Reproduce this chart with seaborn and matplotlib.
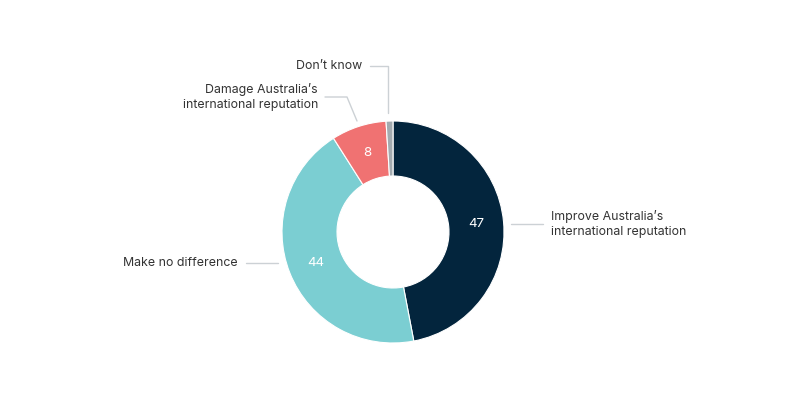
import matplotlib
matplotlib.use("Agg")
import matplotlib.pyplot as plt
import seaborn as sns
import numpy as np

categories = ["Improve Australia’s\ninternational reputation", "Make no difference",
              "Damage Australia’s\ninternational reputation", "Don’t know"]
values = [47, 44, 8, 1]
value_labels = ["47", "44", "8", ""]
colors = ["#03253D", "#7BCED2", "#F07272", "#A3ABB0"]

sns.set_theme(style="white")
plt.rcParams['font.family'] = ['Inter', 'DejaVu Sans']

W, H = 785, 396
fig = plt.figure(figsize=(W / 100, H / 100), dpi=100)
ax = fig.add_axes([0, 0, 1, 1])

cx, cy = 393, H - 232
R, w = 111, 55
wedges, _ = ax.pie(values, colors=colors, startangle=90, counterclock=False,
                   center=(cx, cy), radius=R, frame=True,
                   wedgeprops=dict(width=w, edgecolor="white", linewidth=0.8))
ax.set_xlim(0, W)
ax.set_ylim(0, H)
ax.set_aspect("equal")
ax.axis("off")

rmid = R - w / 2
for wd, lab in zip(wedges, value_labels):
    if not lab:
        continue
    ang = np.deg2rad((wd.theta1 + wd.theta2) / 2)
    ax.text(cx + rmid * np.cos(ang), cy + rmid * np.sin(ang), lab,
            ha="center", va="center", color="white", fontsize=9.6)

lc = "#CCD1D5"
txt = "#333333"
fs = 8.9
# Improve
ax.plot([511, 543], [H - 224, H - 224], color=lc, lw=1)
ax.text(551, H - 224, categories[0], ha="left", va="center", color=txt,
        fontsize=fs, linespacing=1.4)
# Make no difference
ax.plot([246, 278], [H - 263, H - 263], color=lc, lw=1)
ax.text(238, H - 263, categories[1], ha="right", va="center", color=txt, fontsize=fs)
# Damage
ax.plot([325, 347, 357], [H - 97, H - 97, H - 121], color=lc, lw=1)
ax.text(318, H - 97, categories[2], ha="right", va="center", color=txt,
        fontsize=fs, linespacing=1.4, multialignment="right")
# Don't know
ax.plot([370, 388, 388], [H - 66, H - 66, H - 113], color=lc, lw=1)
ax.text(362, H - 66, categories[3], ha="right", va="center", color=txt, fontsize=fs)

fig.savefig("out.png", dpi=100, facecolor="white")
